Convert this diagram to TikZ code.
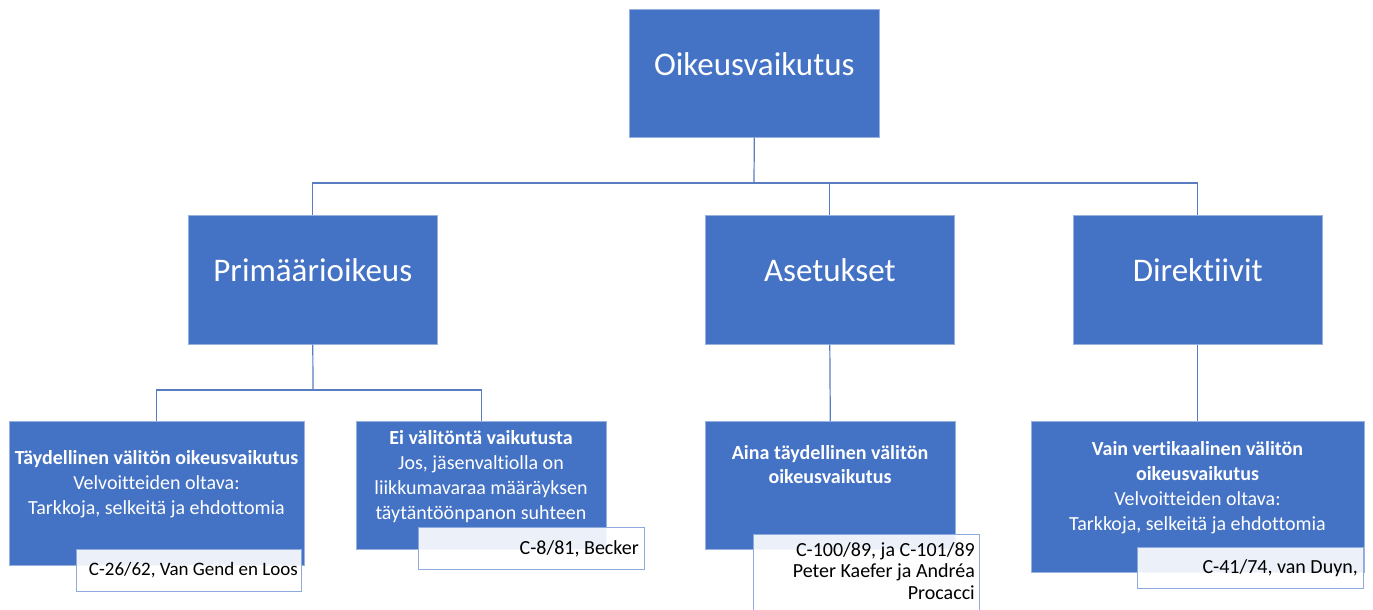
\documentclass[tikz,border=0pt]{standalone}
\usepackage{fontspec}
\setmainfont{Carlito}[Ligatures=NoCommon]
\usepackage{xcolor}
\usepackage{tikz}
\usetikzlibrary{positioning, calc}

\definecolor{boxblue}{HTML}{4472C4}
\definecolor{connblue}{HTML}{5A7CC0}
\definecolor{citeline}{HTML}{8FAADC}

\tikzset{
  box/.style={rectangle, fill=boxblue, draw=boxblue!55!white, line width=0.6pt,
    anchor=north west, inner sep=0pt},
  bigtext/.style={text=white, font=\fontsize{33}{40}\selectfont},
  smalltext/.style={text=white, align=center, inner sep=0pt,
    font=\fontsize{20}{25}\selectfont},
  citebox/.style={rectangle, draw=citeline, line width=1pt, fill=white,
    fill opacity=0.9, anchor=north west, inner sep=0pt},
  citetext/.style={text=black, align=flush right, inner sep=0pt,
    font=\fontsize{20}{21.5}\selectfont},
  conn/.style={draw=connblue, line width=1.2pt}
}

\begin{document}
\begin{tikzpicture}[x=1pt, y=-1pt]
  \useasboundingbox (0,0) rectangle (1373,610);

  % top level
  \node[box, minimum width=250pt, minimum height=128pt] (top) at (629,9) {};
  \node[bigtext] (topText) at ($(top.north)+(0,55)$) {Oikeusvaikutus};

  % second level
  \node[box, minimum width=249pt, minimum height=129pt] (prim) at (188,215) {};
  \node[box, minimum width=249pt, minimum height=129pt] (aset) at (705,215) {};
  \node[box, minimum width=249pt, minimum height=129pt] (dir) at (1073,215) {};
  \node[bigtext] (primText) at ($(prim.north)+(0,55)$) {Primäärioikeus};
  \node[bigtext] (asetText) at ($(aset.north)+(0,55)$) {Asetukset};
  \node[bigtext] (dirText) at ($(dir.north)+(0,55)$) {Direktiivit};

  % third level
  \node[box, minimum width=295pt, minimum height=144pt] (taysi) at (9,421) {};
  \node[box, minimum width=250pt, minimum height=128pt] (ei) at (356,421) {};
  \node[box, minimum width=250pt, minimum height=128pt] (aina) at (705,421) {};
  \node[box, minimum width=333pt, minimum height=151pt] (vain) at (1031,421) {};

  \node[smalltext] (taysiText) at (156.5,484)
    {\textbf{Täydellinen välitön oikeusvaikutus}\\Velvoitteiden oltava:\\Tarkkoja, selkeitä ja ehdottomia};
  \node[smalltext] (eiText) at (481,477)
    {\textbf{Ei välitöntä vaikutusta}\\Jos, jäsenvaltiolla on\\liikkumavaraa määräyksen\\täytäntöönpanon suhteen};
  \node[smalltext, font=\fontsize{20}{24}\selectfont] (ainaText) at (830,465)
    {\textbf{Aina täydellinen välitön}\\\textbf{oikeusvaikutus}};
  \node[smalltext] (vainText) at (1197.5,487.5)
    {\textbf{Vain vertikaalinen välitön}\\\textbf{oikeusvaikutus}\\Velvoitteiden oltava:\\Tarkkoja, selkeitä ja ehdottomia};

  % case references
  \node[citebox, minimum width=225pt, minimum height=42pt] (cite1) at (76,549) {};
  \node[citebox, minimum width=226pt, minimum height=42pt] (cite2) at (418,527) {};
  \node[citebox, minimum width=226pt, minimum height=90pt] (cite3) at (753,534) {};
  \node[citebox, minimum width=226pt, minimum height=41pt] (cite4) at (1137,547) {};
  \node[citetext, anchor=east, font=\fontsize{19}{21.5}\selectfont] (cite1Text) at ($(cite1.east)+(-4,0)$) {C-26/62, Van Gend en Loos};
  \node[citetext, anchor=east] (cite2Text) at ($(cite2.east)+(-6,0)$) {C-8/81, Becker};
  \node[citetext, anchor=north east] (cite3Text) at ($(cite3.north east)+(-5,8)$)
    {C-100/89, ja C-101/89\\Peter Kaefer ja Andréa\\Procacci};
  \node[citetext, anchor=east] (cite4Text) at ($(cite4.east)+(-6,0)$) {C-41/74, van Duyn,};

  % connectors
  \coordinate (bus) at (754,183);
  \coordinate (bus2) at (313,390);
  \draw[conn] (top.south) -- (bus);
  \draw[conn] (prim.north) |- (bus) -| (dir.north);
  \draw[conn] (aset.north) -- (aset.north |- bus);
  \draw[conn] (prim.south) -- (bus2);
  \draw[conn] (taysi.north) |- (bus2) -| (ei.north);
  \draw[conn] (aset.south) -- (aina.north);
  \draw[conn] (dir.south) -- (vain.north);
\end{tikzpicture}
\end{document}
